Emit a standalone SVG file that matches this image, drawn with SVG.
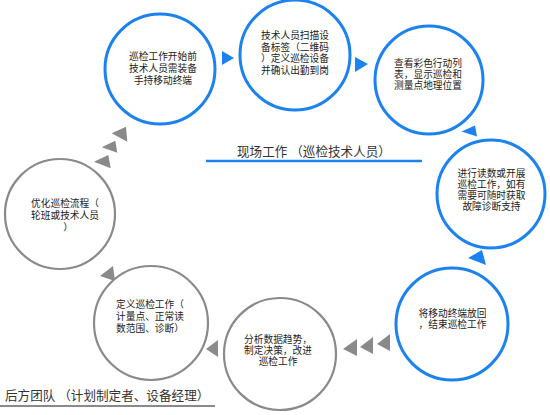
<svg xmlns="http://www.w3.org/2000/svg" width="550" height="415" viewBox="0 0 550 415">
<style>
.bc{fill:#fff;stroke:#1b82ef;stroke-width:3}
.gc{fill:#fff;stroke:#8a8a8a;stroke-width:2.2}
.bt{fill:#1b82ef}
.gt{fill:#8a8a8a}
.t{font-family:"Noto Sans CJK SC","Noto Sans",sans-serif;font-size:9.7px;fill:#222;text-anchor:middle}
.h{font-family:"Noto Sans CJK SC","Noto Sans",sans-serif;font-size:12.6px;fill:#333}
</style>
<rect width="550" height="415" fill="#fff"/>
<g id="connectors">
<polygon class="bt" points="222,51 234,58 222,65"/>
<polygon class="bt" points="355,57 368,64 355,72"/>
<polygon class="bt" points="461.5,131.5 475,125.5 477,136.5"/>
<polygon class="bt" points="468,258 482,250 486,265"/>
<polygon class="gt" points="343,349 357,339 357,356"/>
<polygon class="gt" points="360,347 373,337 373,354"/>
<polygon class="gt" points="377,344 390,334 390,351"/>
<polygon class="gt" points="206,349 218,340 218,357"/>
<polygon class="gt" points="100,276 113,266 115,281"/>
<polygon class="gt" points="111.7,133.3 126,126.7 127.3,141.7"/>
<polygon class="gt" points="101.7,147.3 115.3,140.7 117.3,152.7"/>
<polygon class="gt" points="94,161.7 108.3,155 110.7,168.3"/>
<line x1="206" y1="161" x2="422" y2="161" stroke="#1b82ef" stroke-width="2.5"/>
<line x1="0" y1="406" x2="215" y2="406" stroke="#8a8a8a" stroke-width="2"/>
</g>
<g id="label-field"><text class="h" x="237" y="156">现场工作 （巡检技术人员）</text></g>
<g id="label-back"><text class="h" x="5" y="400">后方团队 （计划制定者、设备经理）</text></g>
<g id="n1"><circle class="bc" cx="160" cy="69" r="55"/>
<text class="t" x="163" y="60.4">巡检工作开始前</text>
<text class="t" x="163" y="72.4">技术人员需装备</text>
<text class="t" x="163" y="84.4">手持移动终端</text></g>
<g id="n2"><circle class="bc" cx="295" cy="55" r="55"/>
<text class="t" x="295" y="39">技术人员扫描设</text>
<text class="t" x="295" y="50.7">备标签（二维码</text>
<text class="t" x="295" y="62.4">）定义巡检设备</text>
<text class="t" x="295" y="74.1">并确认出勤到岗</text></g>
<g id="n3"><circle class="bc" cx="429" cy="80" r="54"/>
<text class="t" x="428" y="66.7">查看彩色行动列</text>
<text class="t" x="428" y="78">表，显示巡检和</text>
<text class="t" x="428" y="89.2">测量点地理位置</text></g>
<g id="n4"><circle class="bc" cx="491" cy="194" r="54"/>
<text class="t" x="491.5" y="177.2">进行读数或开展</text>
<text class="t" x="491.5" y="188">巡检工作，如有</text>
<text class="t" x="491.5" y="199">需要可随时获取</text>
<text class="t" x="491.5" y="209.8">故障诊断支持</text></g>
<g id="n5"><circle class="bc" cx="452" cy="324" r="56"/>
<text class="t" x="452.5" y="317.2">将移动终端放回</text>
<text class="t" x="452.5" y="328.2">，结束巡检工作</text></g>
<g id="n6"><circle class="gc" cx="280" cy="354" r="56"/>
<text class="t" x="278" y="343.4">分析数据趋势，</text>
<text class="t" x="278" y="354.4">制定决策，改进</text>
<text class="t" x="278" y="365.4">巡检工作</text></g>
<g id="n7"><circle class="gc" cx="151" cy="323" r="57"/>
<text class="t" x="150" y="308.4">定义巡检工作（</text>
<text class="t" x="150" y="320.4">计量点、正常读</text>
<text class="t" x="150" y="332.2">数范围、诊断）</text></g>
<g id="n8"><circle class="gc" cx="60" cy="214" r="55"/>
<text class="t" x="65" y="207.2">优化巡检流程（</text>
<text class="t" x="65" y="218.8">轮班或技术人员</text>
<text class="t" x="68" y="230.6">）</text></g>
</svg>
